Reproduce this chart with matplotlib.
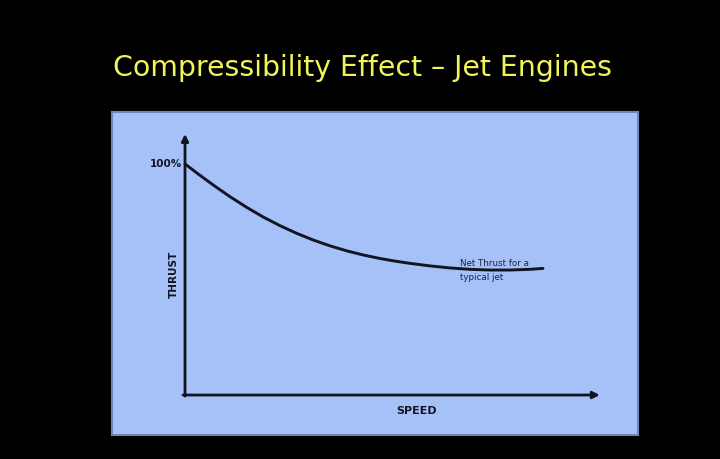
import matplotlib.pyplot as plt

# ── Data ──
speed = [0, 3.6, 6.8, 10.8, 14.9, 18.9, 22.9, 26.9, 30.9, 34.9, 39.0,
         43.0, 47.0, 50.5, 54.2, 59.0, 63.9, 68.7, 73.5, 78.3, 83.1, 86.3]
thrust = [100, 95.1, 90.9, 85.9, 81.2, 77.0, 73.3, 70.0, 67.1, 64.6, 62.4,
          60.6, 59.1, 58.0, 57.0, 55.9, 55.0, 54.4, 54.1, 54.1, 54.4, 54.8]
title = "Compressibility Effect \u2013 Jet Engines"
curve_label = "Net Thrust for a\ntypical jet"

# ── Style constants ──
BG = "#000000"
PANEL = "#a6c0f8"
PANEL_EDGE = "#6f87b8"
INK = "#111522"
TITLE_COLOR = "#f2f25a"

fig = plt.figure(figsize=(7.2, 4.6), dpi=100, facecolor=BG)
fig.text(0.503, 0.852, title, ha="center", va="center", color=TITLE_COLOR,
         fontsize=20.4, family="DejaVu Sans")

# panel axes spans the light blue slide area
W, H = 720, 460
left, right, top, bottom = 112, 638, 113, 436
ax = fig.add_axes([left / W, 1 - bottom / H, (right - left) / W, (bottom - top) / H])
ax.set_facecolor(PANEL)
for s in ax.spines.values():
    s.set_color(PANEL_EDGE)
    s.set_linewidth(1.5)
ax.set_xticks([])
ax.set_yticks([])
ax.set_xlim(-17.6, 109.2)
ax.set_ylim(-17.3, 122.5)

# axes drawn as arrows
arrow_kw = dict(arrowstyle="-|>", color=INK, lw=2.0, mutation_scale=10,
                shrinkA=0, shrinkB=0)
ax.annotate("", xy=(0, 113), xytext=(0, -0.5), arrowprops=arrow_kw)
ax.annotate("", xy=(100, 0), xytext=(-0.5, 0), arrowprops=arrow_kw)

ax.plot(speed, thrust, color=INK, lw=2.1, solid_capstyle="round",
        solid_joinstyle="round")

ax.text(-0.8, 100.5, "100%", ha="right", va="center", fontsize=7.5,
        fontweight="bold", color=INK)
ax.text(-2.6, 52.8, "THRUST", rotation=90, ha="center", va="center",
        fontsize=7.5, fontweight="bold", color=INK)
ax.text(55.9, -6.6, "SPEED", ha="center", va="center", fontsize=8,
        fontweight="bold", color=INK)
ax.text(66.3, 54.3, curve_label, ha="left", va="center", fontsize=6.3,
        color="#1d2440", linespacing=1.7)

fig.savefig("out.png", dpi=100, facecolor=BG)
